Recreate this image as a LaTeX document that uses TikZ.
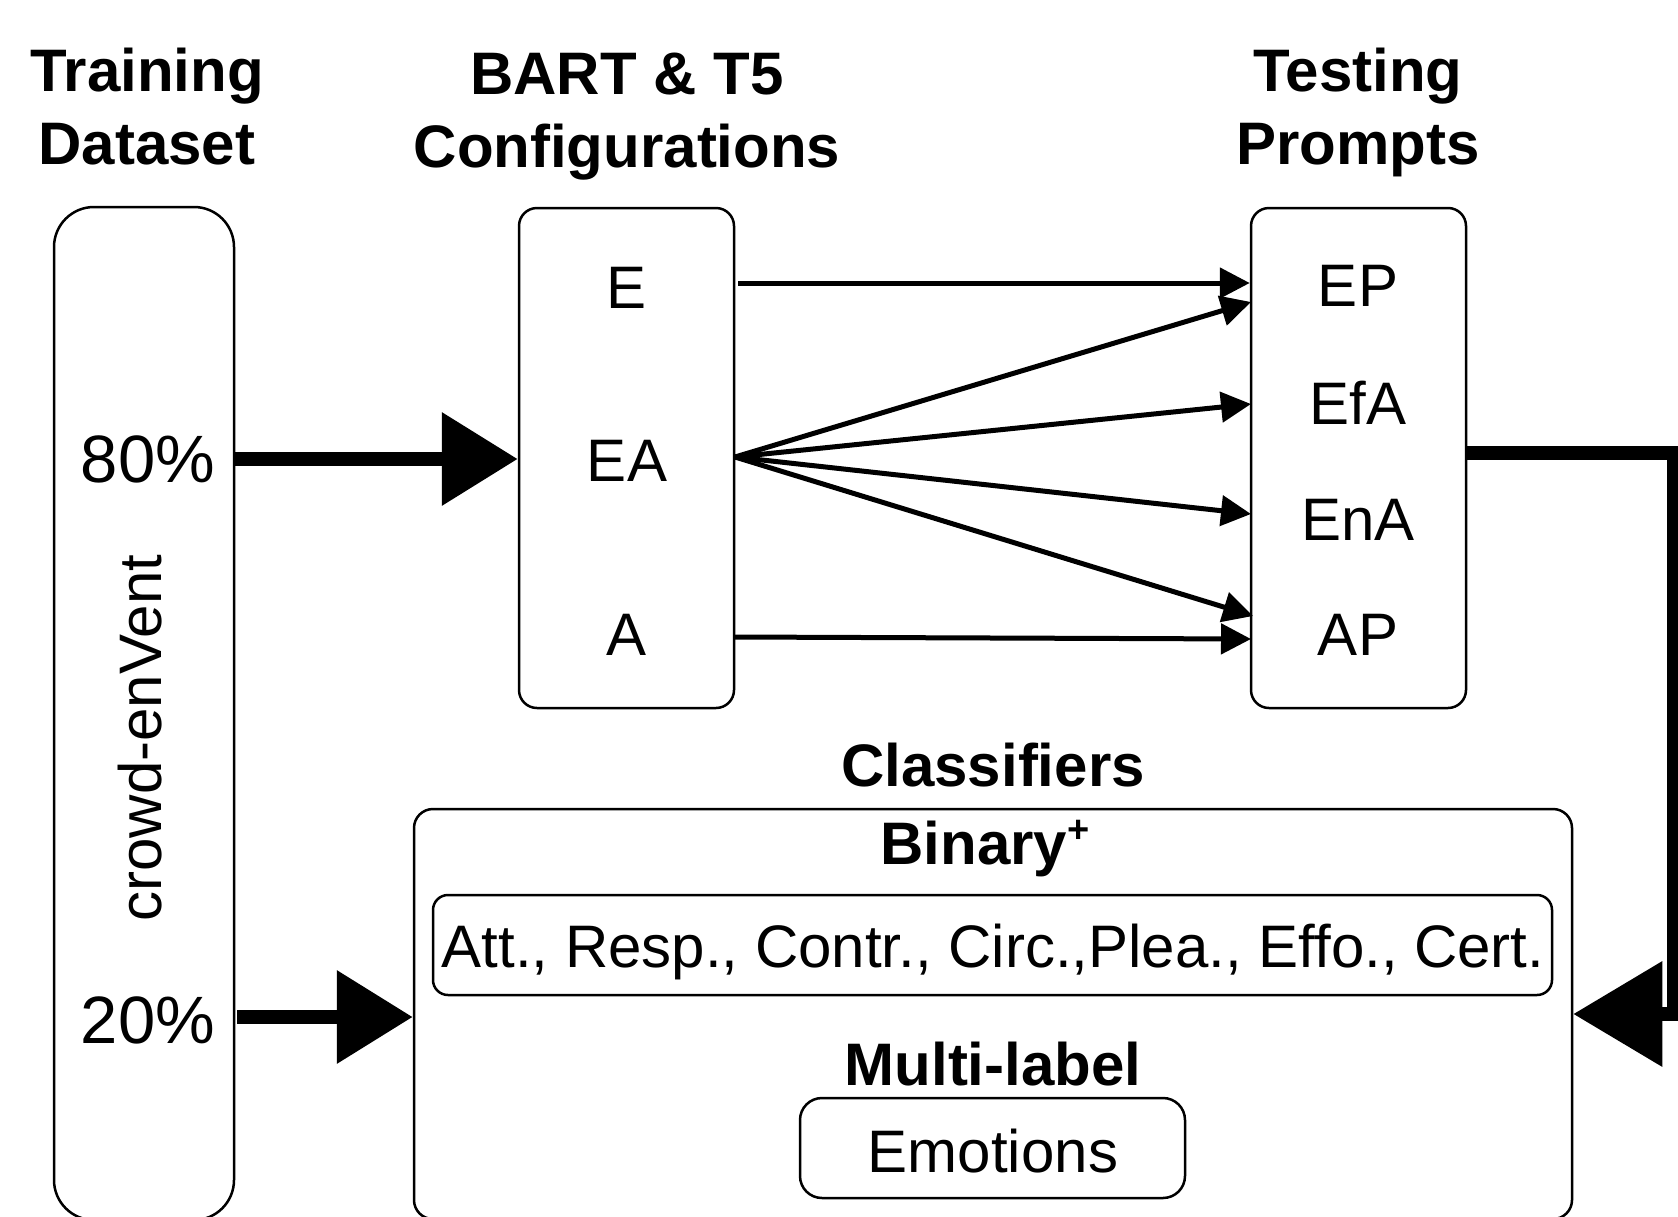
\documentclass[tikz,border=0pt]{standalone}
\usepackage{fontspec}
\setmainfont{Liberation Sans}
\usetikzlibrary{arrows.meta}
\begin{document}
\begin{tikzpicture}[x=1pt,y=-1pt,
  box/.style={draw, line width=2.5pt, rectangle, inner sep=0pt},
  lbl/.style={inner sep=0pt, anchor=base, font=\fontsize{60}{72}\selectfont},
  ttl/.style={inner sep=0pt, anchor=base, font=\fontsize{60}{72}\selectfont\bfseries},
  pct/.style={inner sep=0pt, anchor=base, font=\fontsize{67}{78}\selectfont},
  thinarrow/.style={line width=5pt, -{Triangle[length=30pt,width=30pt]}},
  bigarrow/.style={line width=14pt, -{Triangle[length=76pt,width=90pt]}},
  hugearrow/.style={line width=14pt, miter limit=10, -{Triangle[length=89pt,width=102pt]}}
]
\useasboundingbox (0,0) rectangle (1678,1216);
\clip (0,0) rectangle (1678,1216);

% boxes
\node[box, rounded corners=40pt, minimum width=180pt, minimum height=1013pt] (data) at (144,713.5) {};
\node[box, rounded corners=18pt, minimum width=215pt, minimum height=500pt] (bart) at (626.5,458) {};
\node[box, rounded corners=18pt, minimum width=215pt, minimum height=500pt] (test) at (1358.5,458) {};
\node[box, rounded corners=19pt, minimum width=1158pt, minimum height=410pt] (cls) at (993,1014) {};
\node[box, rounded corners=15pt, minimum width=1119pt, minimum height=100pt] (attbox) at (992.5,945) {};
\node[box, rounded corners=22pt, minimum width=385pt, minimum height=100pt] (emobox) at (992.5,1148) {};

% titles
\node[ttl] (tTrain1) at (147,91) {Training};
\node[ttl] (tTrain2) at (147,164) {Dataset};
\node[ttl] (tBart1) at (627,94) {BART \& T5};
\node[ttl] (tBart2) at (627,167) {Configurations};
\node[ttl] (tTest1) at (1358,91) {Testing};
\node[ttl] (tTest2) at (1358,164) {Prompts};

% labels
\node[lbl] (E) at (627,308) {E};
\node[lbl] (EA) at (627,481) {EA};
\node[lbl] (A) at (627,655) {A};
\node[lbl] (EP) at (1358,306) {EP};
\node[lbl] (EfA) at (1358,424) {EfA};
\node[lbl] (EnA) at (1358,540) {EnA};
\node[lbl] (AP) at (1358,655) {AP};
\node[pct] (p80) at (148,482) {80\%};
\node[pct] (p20) at (148,1043) {20\%};
\node[inner sep=0pt, font=\fontsize{60}{72}\selectfont, rotate=90] (crowd) at (140,738) {crowd-enVent};
\node[ttl] (tCls) at (993,786) {Classifiers};
\node[ttl] (tBin) at (985,864) {Binary\raisebox{22pt}{\fontsize{38}{38}\selectfont\bfseries +}};
\node[lbl] (att) at (993,967) {Att., Resp., Contr., Circ.,Plea., Effo., Cert.};
\node[ttl] (tMulti) at (993,1085) {Multi-label};
\node[lbl] (emo) at (993,1172) {Emotions};

% coordinates for connector ends
\coordinate (s80) at (234,459);
\coordinate (s20) at (237,1017);
\coordinate (rc1) at (1674,453);
\coordinate (rc2) at (1674,1014);
\coordinate (eo) at (738,283);
\coordinate (eao) at (735,457);
\coordinate (ao) at (735,637);
\coordinate (iEP) at (1251,302);
\coordinate (iEfA) at (1251,404);
\coordinate (iEnA) at (1251,514);
\coordinate (iAP) at (1253,616);
\coordinate (iAP2) at (1251,639);

% thick connectors
\draw[bigarrow] (s80) -- (s80 -| bart.west);
\draw[bigarrow] (s20) -- (s20 -| cls.west);
\draw[hugearrow] (test.east |- rc1) -- (rc1) -- (rc2) -- (rc2 -| cls.east);

% thin connectors
\draw[thinarrow] (eo) -- (eo -| test.west);
\draw[thinarrow] (eao) -- (iEP);
\draw[thinarrow] (eao) -- (iEfA);
\draw[thinarrow] (eao) -- (iEnA);
\draw[thinarrow] (eao) -- (iAP);
\draw[thinarrow] (ao) -- (iAP2);
\end{tikzpicture}
\end{document}
